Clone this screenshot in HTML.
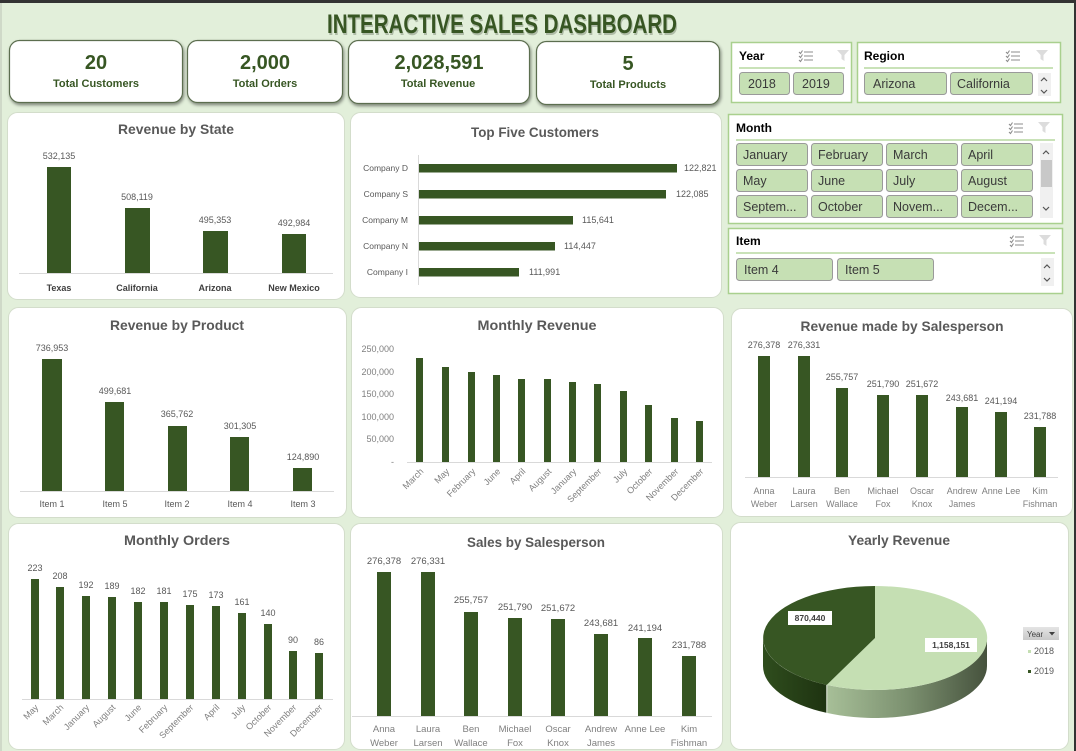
<!DOCTYPE html>
<html>
<head>
<meta charset="utf-8">
<style>
  html,body{margin:0;padding:0;background:#e2efda;}
  body{width:1076px;height:751px;overflow:hidden;}
  svg{display:block;font-family:"Liberation Sans",Arial,sans-serif;}
  .t{font-weight:bold;fill:#595959;font-size:14px;text-anchor:middle;}
  .v{fill:#595959;font-size:9px;text-anchor:middle;}
  .c{fill:#595959;font-size:9px;text-anchor:middle;}
  .cb{fill:#404040;font-size:9px;text-anchor:middle;font-weight:bold;}
  .g{fill:#7f7f7f;font-size:9px;text-anchor:middle;}
  .r{fill:#7f7f7f;font-size:9px;text-anchor:end;}
  .bar{fill:#375623;}
  .ax{stroke:#d9d9d9;stroke-width:1;}
  .pnl{fill:#ffffff;stroke:#d3ddcb;stroke-width:1;}
  .kn{font-weight:bold;fill:#375623;font-size:20px;text-anchor:middle;}
  .kl{font-weight:bold;fill:#375623;font-size:11px;text-anchor:middle;}
  .sl{fill:#ffffff;stroke:#a9d08e;stroke-width:1.5;}
  .st{font-weight:bold;font-size:12px;fill:#000;}
  .btn{fill:#c6e0b4;stroke:#9a9a9a;stroke-width:1;}
  .bt{font-size:12.5px;fill:#3a3a3a;}
  .hl{stroke:#a9d08e;stroke-width:1.2;}
</style>
</head>
<body>
<svg width="1076" height="751" viewBox="0 0 1076 751" xmlns="http://www.w3.org/2000/svg">
  <defs>
    <filter id="sh" x="-10%" y="-20%" width="130%" height="160%">
      <feDropShadow dx="1" dy="2" stdDeviation="1.5" flood-color="#000" flood-opacity="0.45"/>
    </filter>
    <linearGradient id="lside" x1="0" y1="0" x2="1" y2="0">
      <stop offset="0" stop-color="#a7bf98"/>
      <stop offset="0.5" stop-color="#7c9170"/>
      <stop offset="1" stop-color="#46523d"/>
    </linearGradient>
    <linearGradient id="dside" x1="0" y1="0" x2="1" y2="0">
      <stop offset="0" stop-color="#2f4d1d"/>
      <stop offset="1" stop-color="#1e3311"/>
    </linearGradient>
    <linearGradient id="yb" x1="0" y1="0" x2="0" y2="1">
      <stop offset="0" stop-color="#e4e4e4"/>
      <stop offset="1" stop-color="#c9c9c9"/>
    </linearGradient>
  </defs>

  <rect x="0" y="0" width="1076" height="751" fill="#e2efda"/>
  <rect x="0" y="0" width="1076" height="3" fill="#333333"/>
  <rect x="1074" y="0" width="2" height="751" fill="#333333"/>
  <rect x="0" y="3" width="2" height="748" fill="#cfd9c8"/>

  <!-- Title -->
  <text x="328" y="35" font-size="27" font-weight="bold" fill="#9aa792" opacity="0.7" textLength="350" lengthAdjust="spacingAndGlyphs">INTERACTIVE SALES DASHBOARD</text>
  <text x="327" y="33" font-size="27" font-weight="bold" fill="#375623" textLength="350" lengthAdjust="spacingAndGlyphs">INTERACTIVE SALES DASHBOARD</text>

  <!-- KPI cards -->
  <g filter="url(#sh)">
    <rect x="9.5" y="40.5" width="173" height="62" rx="10" fill="#fff" stroke="#5c6e50" stroke-width="1.2"/>
    <rect x="187.5" y="40.5" width="155" height="62" rx="10" fill="#fff" stroke="#5c6e50" stroke-width="1.2"/>
    <rect x="348.5" y="40.5" width="181" height="63" rx="10" fill="#fff" stroke="#5c6e50" stroke-width="1.2"/>
    <rect x="536.5" y="41.5" width="183" height="63" rx="10" fill="#fff" stroke="#5c6e50" stroke-width="1.2"/>
  </g>
  <text class="kn" x="96" y="69">20</text>
  <text class="kl" x="96" y="87">Total Customers</text>
  <text class="kn" x="265" y="69">2,000</text>
  <text class="kl" x="265" y="87">Total Orders</text>
  <text class="kn" x="439" y="69">2,028,591</text>
  <text class="kl" x="438" y="87">Total Revenue</text>
  <text class="kn" x="628" y="70">5</text>
  <text class="kl" x="628" y="88">Total Products</text>

  <!-- Year -->
  <rect class="sl" x="731.5" y="42.5" width="120" height="60"/>
  <text class="st" x="739" y="60">Year</text>
  <g stroke="#8c8c8c" stroke-width="1.1" fill="none">
    <path d="M804 52h9M804 56h9M804 60h9"/>
    <path d="M799 52l1.5 1.5 2-3M799 56l1.5 1.5 2-3M799 60l1.5 1.5 2-3"/>
  </g>
  <path d="M837 50h12l-4.5 5v6l-3 -2v-4z" fill="#dcdcdc"/>
  <line class="hl" x1="739" y1="68" x2="845" y2="68"/>
  <rect class="btn" x="739.5" y="72.5" width="50" height="22" rx="3"/>
  <rect class="btn" x="793.5" y="72.5" width="50" height="22" rx="3"/>
  <text class="bt" x="748" y="88">2018</text>
  <text class="bt" x="802" y="88">2019</text>

  <!-- Region -->
  <rect class="sl" x="857.5" y="42.5" width="203" height="60"/>
  <text class="st" x="864" y="60">Region</text>
  <g stroke="#8c8c8c" stroke-width="1.1" fill="none">
    <path d="M1011 52h9M1011 56h9M1011 60h9"/>
    <path d="M1006 52l1.5 1.5 2-3M1006 56l1.5 1.5 2-3M1006 60l1.5 1.5 2-3"/>
  </g>
  <path d="M1036 50h12l-4.5 5v6l-3 -2v-4z" fill="#dcdcdc"/>
  <line class="hl" x1="864" y1="68" x2="1053" y2="68"/>
  <rect class="btn" x="864.5" y="72.5" width="82" height="22" rx="3"/>
  <rect class="btn" x="950.5" y="72.5" width="82" height="22" rx="3"/>
  <text class="bt" x="873" y="88">Arizona</text>
  <text class="bt" x="957" y="88">California</text>
  <rect x="1038" y="73" width="13" height="23" fill="#f0f0f0"/>
  <path d="M1041 81l3-3 3 3M1041 90l3 3 3-3" stroke="#555" stroke-width="1.2" fill="none"/>

  <!-- Month -->
  <rect class="sl" x="728.5" y="114.5" width="334" height="109"/>
  <text class="st" x="736" y="132">Month</text>
  <g stroke="#8c8c8c" stroke-width="1.1" fill="none">
    <path d="M1014 124h9M1014 128h9M1014 132h9"/>
    <path d="M1009 124l1.5 1.5 2-3M1009 128l1.5 1.5 2-3M1009 132l1.5 1.5 2-3"/>
  </g>
  <path d="M1038 122h12l-4.5 5v6l-3 -2v-4z" fill="#dcdcdc"/>
  <line class="hl" x1="736" y1="140" x2="1055" y2="140"/>
  <g>
    <rect class="btn" x="736.5" y="143.5" width="71" height="22" rx="3"/>
    <rect class="btn" x="811.5" y="143.5" width="71" height="22" rx="3"/>
    <rect class="btn" x="886.5" y="143.5" width="71" height="22" rx="3"/>
    <rect class="btn" x="961.5" y="143.5" width="71" height="22" rx="3"/>
    <rect class="btn" x="736.5" y="169.5" width="71" height="22" rx="3"/>
    <rect class="btn" x="811.5" y="169.5" width="71" height="22" rx="3"/>
    <rect class="btn" x="886.5" y="169.5" width="71" height="22" rx="3"/>
    <rect class="btn" x="961.5" y="169.5" width="71" height="22" rx="3"/>
    <rect class="btn" x="736.5" y="195.5" width="71" height="22" rx="3"/>
    <rect class="btn" x="811.5" y="195.5" width="71" height="22" rx="3"/>
    <rect class="btn" x="886.5" y="195.5" width="71" height="22" rx="3"/>
    <rect class="btn" x="961.5" y="195.5" width="71" height="22" rx="3"/>
  </g>
  <text class="bt" x="743" y="159">January</text>
  <text class="bt" x="818" y="159">February</text>
  <text class="bt" x="893" y="159">March</text>
  <text class="bt" x="968" y="159">April</text>
  <text class="bt" x="743" y="185">May</text>
  <text class="bt" x="818" y="185">June</text>
  <text class="bt" x="893" y="185">July</text>
  <text class="bt" x="968" y="185">August</text>
  <text class="bt" x="743" y="211">Septem...</text>
  <text class="bt" x="818" y="211">October</text>
  <text class="bt" x="893" y="211">Novem...</text>
  <text class="bt" x="968" y="211">Decem...</text>
  <rect x="1040" y="143" width="13" height="75" fill="#f0f0f0"/>
  <rect x="1041" y="160" width="11" height="27" fill="#c8c8c8"/>
  <path d="M1043 154l3-3 3 3M1043 207l3 3 3-3" stroke="#555" stroke-width="1.2" fill="none"/>

  <!-- Item -->
  <rect class="sl" x="728.5" y="228.5" width="334" height="65"/>
  <text class="st" x="736" y="245">Item</text>
  <g stroke="#8c8c8c" stroke-width="1.1" fill="none">
    <path d="M1015 237h9M1015 241h9M1015 245h9"/>
    <path d="M1010 237l1.5 1.5 2-3M1010 241l1.5 1.5 2-3M1010 245l1.5 1.5 2-3"/>
  </g>
  <path d="M1039 235h12l-4.5 5v6l-3 -2v-4z" fill="#dcdcdc"/>
  <line class="hl" x1="736" y1="253" x2="1055" y2="253"/>
  <rect class="btn" x="736.5" y="258.5" width="96" height="22" rx="3"/>
  <rect class="btn" x="837.5" y="258.5" width="96" height="22" rx="3"/>
  <text class="bt" x="744" y="274">Item 4</text>
  <text class="bt" x="845" y="274">Item 5</text>
  <rect x="1041" y="258" width="13" height="28" fill="#f0f0f0"/>
  <path d="M1044 268l3-3 3 3M1044 278l3 3 3-3" stroke="#555" stroke-width="1.2" fill="none"/>

  <!-- Panels -->
  <rect class="pnl" x="7.5" y="112.5" width="337" height="187" rx="10"/>
  <rect class="pnl" x="350.5" y="112.5" width="371" height="185" rx="10"/>
  <rect class="pnl" x="8.5" y="307.5" width="338" height="210" rx="10"/>
  <rect class="pnl" x="351.5" y="307.5" width="372" height="210" rx="10"/>
  <rect class="pnl" x="731.5" y="308.5" width="341" height="208" rx="10"/>
  <rect class="pnl" x="8.5" y="523.5" width="336" height="226" rx="10"/>
  <rect class="pnl" x="350.5" y="523.5" width="372" height="226" rx="10"/>
  <rect class="pnl" x="730.5" y="522.5" width="338" height="227" rx="10"/>

  <!-- Revenue by State -->
  <text class="t" x="176" y="134" textLength="116" lengthAdjust="spacingAndGlyphs">Revenue by State</text>
  <line class="ax" x1="19" y1="273.5" x2="333" y2="273.5"/>
  <rect class="bar" x="47" y="167" width="24" height="106"/>
  <rect class="bar" x="125" y="208" width="25" height="65"/>
  <rect class="bar" x="203" y="231" width="25" height="42"/>
  <rect class="bar" x="282" y="234" width="24" height="39"/>
  <text class="v" x="59" y="159">532,135</text>
  <text class="v" x="137" y="200">508,119</text>
  <text class="v" x="215" y="223">495,353</text>
  <text class="v" x="294" y="226">492,984</text>
  <text class="cb" x="59" y="291">Texas</text>
  <text class="cb" x="137" y="291">California</text>
  <text class="cb" x="215" y="291">Arizona</text>
  <text class="cb" x="294" y="291">New Mexico</text>

  <!-- Top Five Customers -->
  <text class="t" x="535" y="137" textLength="128" lengthAdjust="spacingAndGlyphs">Top Five Customers</text>
  <line class="ax" x1="418.5" y1="155" x2="418.5" y2="285"/>
  <rect class="bar" x="419" y="164" width="258" height="8.5"/>
  <rect class="bar" x="419" y="190" width="247" height="8.5"/>
  <rect class="bar" x="419" y="216" width="154" height="8.5"/>
  <rect class="bar" x="419" y="242" width="136" height="8.5"/>
  <rect class="bar" x="419" y="268" width="100" height="8.5"/>
  <g class="r" style="fill:#595959;font-size:8.5px">
    <text x="408" y="171">Company D</text>
    <text x="408" y="197">Company S</text>
    <text x="408" y="223">Company M</text>
    <text x="408" y="249">Company N</text>
    <text x="408" y="275">Company I</text>
  </g>
  <g style="fill:#595959;font-size:9px">
    <text x="684" y="171">122,821</text>
    <text x="676" y="197">122,085</text>
    <text x="582" y="223">115,641</text>
    <text x="564" y="249">114,447</text>
    <text x="529" y="275">111,991</text>
  </g>

  <!-- Revenue by Product -->
  <text class="t" x="177" y="330" textLength="134" lengthAdjust="spacingAndGlyphs">Revenue by Product</text>
  <line class="ax" x1="20" y1="491.5" x2="334" y2="491.5"/>
  <rect class="bar" x="42" y="359" width="20" height="132"/>
  <rect class="bar" x="105" y="402" width="19" height="89"/>
  <rect class="bar" x="168" y="426" width="19" height="65"/>
  <rect class="bar" x="230" y="437" width="19" height="54"/>
  <rect class="bar" x="293" y="468" width="19" height="23"/>
  <text class="v" x="52" y="351">736,953</text>
  <text class="v" x="115" y="394">499,681</text>
  <text class="v" x="177" y="417">365,762</text>
  <text class="v" x="240" y="429">301,305</text>
  <text class="v" x="303" y="460">124,890</text>
  <text class="c" x="52" y="507">Item 1</text>
  <text class="c" x="115" y="507">Item 5</text>
  <text class="c" x="177" y="507">Item 2</text>
  <text class="c" x="240" y="507">Item 4</text>
  <text class="c" x="303" y="507">Item 3</text>

  <!-- Monthly Revenue -->
  <text class="t" x="537" y="330" textLength="119" lengthAdjust="spacingAndGlyphs">Monthly Revenue</text>
  <g class="r">
    <text x="394" y="352">250,000</text>
    <text x="394" y="375">200,000</text>
    <text x="394" y="397">150,000</text>
    <text x="394" y="420">100,000</text>
    <text x="394" y="442">50,000</text>
    <text x="394" y="465">-</text>
  </g>
  <line class="ax" x1="407" y1="462.5" x2="712" y2="462.5"/>
  <rect class="bar" x="416" y="358" width="7" height="104"/>
  <rect class="bar" x="442" y="367" width="7" height="95"/>
  <rect class="bar" x="468" y="372" width="7" height="90"/>
  <rect class="bar" x="493" y="375" width="7" height="87"/>
  <rect class="bar" x="518" y="379" width="7" height="83"/>
  <rect class="bar" x="544" y="379" width="7" height="83"/>
  <rect class="bar" x="569" y="382" width="7" height="80"/>
  <rect class="bar" x="594" y="384" width="7" height="78"/>
  <rect class="bar" x="620" y="391" width="7" height="71"/>
  <rect class="bar" x="645" y="405" width="7" height="57"/>
  <rect class="bar" x="671" y="418" width="7" height="44"/>
  <rect class="bar" x="696" y="421" width="7" height="41"/>
  <g class="r">
    <text x="424" y="472" transform="rotate(-45 424 472)">March</text>
    <text x="450" y="472" transform="rotate(-45 450 472)">May</text>
    <text x="476" y="472" transform="rotate(-45 476 472)">February</text>
    <text x="501" y="472" transform="rotate(-45 501 472)">June</text>
    <text x="526" y="472" transform="rotate(-45 526 472)">April</text>
    <text x="552" y="472" transform="rotate(-45 552 472)">August</text>
    <text x="577" y="472" transform="rotate(-45 577 472)">January</text>
    <text x="602" y="472" transform="rotate(-45 602 472)">September</text>
    <text x="628" y="472" transform="rotate(-45 628 472)">July</text>
    <text x="653" y="472" transform="rotate(-45 653 472)">October</text>
    <text x="679" y="472" transform="rotate(-45 679 472)">November</text>
    <text x="704" y="472" transform="rotate(-45 704 472)">December</text>
  </g>

  <!-- Revenue made by Salesperson -->
  <text class="t" x="902" y="331" textLength="203" lengthAdjust="spacingAndGlyphs">Revenue made by Salesperson</text>
  <line class="ax" x1="745" y1="477.5" x2="1058" y2="477.5"/>
  <rect class="bar" x="758" y="356" width="12" height="121"/>
  <rect class="bar" x="798" y="356" width="12" height="121"/>
  <rect class="bar" x="836" y="388" width="12" height="89"/>
  <rect class="bar" x="877" y="395" width="12" height="82"/>
  <rect class="bar" x="916" y="395" width="12" height="82"/>
  <rect class="bar" x="956" y="407" width="12" height="70"/>
  <rect class="bar" x="995" y="412" width="12" height="65"/>
  <rect class="bar" x="1034" y="427" width="12" height="50"/>
  <text class="v" x="764" y="348">276,378</text>
  <text class="v" x="804" y="348">276,331</text>
  <text class="v" x="842" y="380">255,757</text>
  <text class="v" x="883" y="387">251,790</text>
  <text class="v" x="922" y="387">251,672</text>
  <text class="v" x="962" y="401">243,681</text>
  <text class="v" x="1001" y="404">241,194</text>
  <text class="v" x="1040" y="419">231,788</text>
  <g class="g">
    <text x="764" y="494">Anna</text><text x="764" y="507">Weber</text>
    <text x="804" y="494">Laura</text><text x="804" y="507">Larsen</text>
    <text x="842" y="494">Ben</text><text x="842" y="507">Wallace</text>
    <text x="883" y="494">Michael</text><text x="883" y="507">Fox</text>
    <text x="922" y="494">Oscar</text><text x="922" y="507">Knox</text>
    <text x="962" y="494">Andrew</text><text x="962" y="507">James</text>
    <text x="1001" y="494">Anne Lee</text>
    <text x="1040" y="494">Kim</text><text x="1040" y="507">Fishman</text>
  </g>

  <!-- Monthly Orders -->
  <text class="t" x="177" y="545" textLength="106" lengthAdjust="spacingAndGlyphs">Monthly Orders</text>
  <line class="ax" x1="22" y1="699.5" x2="333" y2="699.5"/>
  <rect class="bar" x="31" y="579" width="8" height="120"/>
  <rect class="bar" x="56" y="587" width="8" height="112"/>
  <rect class="bar" x="82" y="596" width="8" height="103"/>
  <rect class="bar" x="108" y="597" width="8" height="102"/>
  <rect class="bar" x="134" y="602" width="8" height="97"/>
  <rect class="bar" x="160" y="602" width="8" height="97"/>
  <rect class="bar" x="186" y="605" width="8" height="94"/>
  <rect class="bar" x="212" y="606" width="8" height="93"/>
  <rect class="bar" x="238" y="613" width="8" height="86"/>
  <rect class="bar" x="264" y="624" width="8" height="75"/>
  <rect class="bar" x="289" y="651" width="8" height="48"/>
  <rect class="bar" x="315" y="653" width="8" height="46"/>
  <text class="v" x="35" y="571">223</text>
  <text class="v" x="60" y="579">208</text>
  <text class="v" x="86" y="588">192</text>
  <text class="v" x="112" y="589">189</text>
  <text class="v" x="138" y="594">182</text>
  <text class="v" x="164" y="594">181</text>
  <text class="v" x="190" y="597">175</text>
  <text class="v" x="216" y="598">173</text>
  <text class="v" x="242" y="605">161</text>
  <text class="v" x="268" y="616">140</text>
  <text class="v" x="293" y="643">90</text>
  <text class="v" x="319" y="645">86</text>
  <g class="r">
    <text x="39" y="708" transform="rotate(-45 39 708)">May</text>
    <text x="64" y="708" transform="rotate(-45 64 708)">March</text>
    <text x="90" y="708" transform="rotate(-45 90 708)">January</text>
    <text x="116" y="708" transform="rotate(-45 116 708)">August</text>
    <text x="142" y="708" transform="rotate(-45 142 708)">June</text>
    <text x="168" y="708" transform="rotate(-45 168 708)">February</text>
    <text x="194" y="708" transform="rotate(-45 194 708)">September</text>
    <text x="220" y="708" transform="rotate(-45 220 708)">April</text>
    <text x="246" y="708" transform="rotate(-45 246 708)">July</text>
    <text x="272" y="708" transform="rotate(-45 272 708)">October</text>
    <text x="297" y="708" transform="rotate(-45 297 708)">November</text>
    <text x="323" y="708" transform="rotate(-45 323 708)">December</text>
  </g>

  <!-- Sales by Salesperson -->
  <text class="t" x="536" y="547" textLength="138" lengthAdjust="spacingAndGlyphs">Sales by Salesperson</text>
  <line class="ax" x1="352" y1="716.5" x2="712" y2="716.5"/>
  <rect class="bar" x="377" y="572" width="14" height="144"/>
  <rect class="bar" x="421" y="572" width="14" height="144"/>
  <rect class="bar" x="464" y="612" width="14" height="104"/>
  <rect class="bar" x="508" y="618" width="14" height="98"/>
  <rect class="bar" x="551" y="619" width="14" height="97"/>
  <rect class="bar" x="594" y="634" width="14" height="82"/>
  <rect class="bar" x="638" y="638" width="14" height="78"/>
  <rect class="bar" x="682" y="656" width="14" height="60"/>
  <g class="v" style="font-size:9.5px">
    <text x="384" y="564">276,378</text>
    <text x="428" y="564">276,331</text>
    <text x="471" y="603">255,757</text>
    <text x="515" y="610">251,790</text>
    <text x="558" y="611">251,672</text>
    <text x="601" y="626">243,681</text>
    <text x="645" y="631">241,194</text>
    <text x="689" y="648">231,788</text>
  </g>
  <g class="g" style="font-size:9.5px">
    <text x="384" y="732">Anna</text><text x="384" y="746">Weber</text>
    <text x="428" y="732">Laura</text><text x="428" y="746">Larsen</text>
    <text x="471" y="732">Ben</text><text x="471" y="746">Wallace</text>
    <text x="515" y="732">Michael</text><text x="515" y="746">Fox</text>
    <text x="558" y="732">Oscar</text><text x="558" y="746">Knox</text>
    <text x="601" y="732">Andrew</text><text x="601" y="746">James</text>
    <text x="645" y="732">Anne Lee</text>
    <text x="689" y="732">Kim</text><text x="689" y="746">Fishman</text>
  </g>

  <!-- Yearly Revenue -->
  <text class="t" x="899" y="545" textLength="102" lengthAdjust="spacingAndGlyphs">Yearly Revenue</text>
  <path d="M763 638 A112 52 0 0 0 826.8 684.9 L826.8 712.9 A112 52 0 0 1 763 666 Z" fill="url(#dside)"/>
  <path d="M826.8 684.9 A112 52 0 0 0 987 638 L987 666 A112 52 0 0 1 826.8 712.9 Z" fill="url(#lside)"/>
  <line x1="826.8" y1="685" x2="826.8" y2="713" stroke="#e8efe3" stroke-width="1"/>
  <path d="M875 638 L875 586 A112 52 0 1 1 826.8 684.9 Z" fill="#c5dfb3"/>
  <path d="M875 638 L826.8 684.9 A112 52 0 0 1 875 586 Z" fill="#375623"/>
  <rect x="788" y="611" width="44" height="14" fill="#ffffff"/>
  <text x="810" y="621" font-size="8.5" font-weight="bold" fill="#404040" text-anchor="middle">870,440</text>
  <rect x="925" y="638" width="52" height="14" fill="#ffffff"/>
  <text x="951" y="648" font-size="8.5" font-weight="bold" fill="#404040" text-anchor="middle">1,158,151</text>
  <rect x="1023" y="627" width="36" height="13" fill="url(#yb)"/>
  <text x="1027" y="637" font-size="8" fill="#404040">Year</text>
  <path d="M1049 632h6l-3 3.5z" fill="#404040"/>
  <rect x="1028" y="650" width="3" height="3" fill="#c5dfb3"/>
  <text x="1034" y="654" font-size="9" fill="#595959">2018</text>
  <rect x="1028" y="670" width="3" height="3" fill="#375623"/>
  <text x="1034" y="674" font-size="9" fill="#595959">2019</text>
</svg>
</body>
</html>
